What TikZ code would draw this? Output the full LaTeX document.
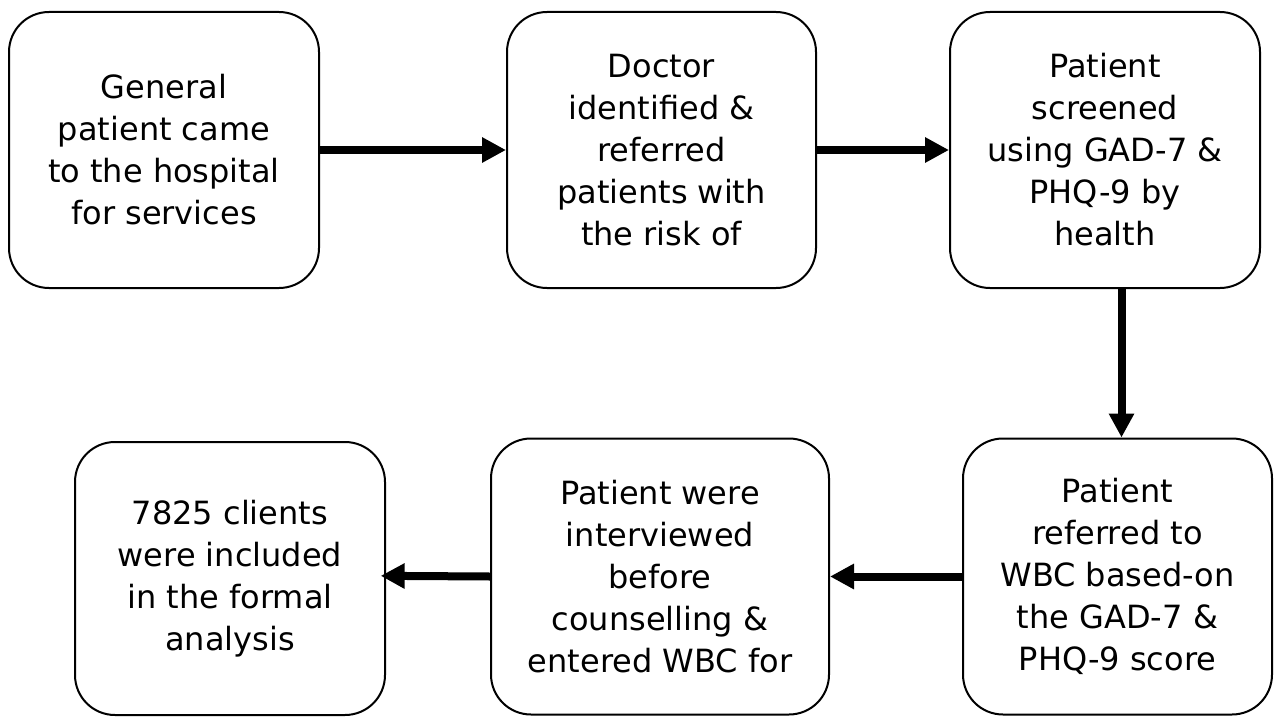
\documentclass[tikz,border=0pt]{standalone}
\usepackage{fontspec}
\setmainfont{DejaVu Sans}
\usetikzlibrary{arrows.meta}
\begin{document}
\begin{tikzpicture}[x=0.75pt,y=-0.75pt,
  stepbox/.style={draw=black, line width=1.5pt, fill=white, rounded corners=30pt,
    inner sep=0pt, align=center, minimum height=207pt,
    font=\fontsize{24}{31.5}\selectfont},
  flowarrow/.style={line width=6pt, -{Triangle[length=18pt,width=18pt]}}]
\useasboundingbox (0,0) rectangle (1277,717);
\node[stepbox, minimum width=232.5pt] (b1) at (164,150) {General\\patient came\\to the hospital\\for services};
\node[stepbox, minimum width=231.75pt] (b2) at (661.5,150) {Doctor\\identified \&\\referred\\patients with\\the risk of};
\node[stepbox, minimum width=232.5pt] (b3) at (1105,150) {Patient\\screened\\using GAD-7 \&\\PHQ-9 by\\health};
\node[stepbox, minimum width=231.75pt] (b4) at (1117.5,576.5) {Patient\\referred to\\WBC based-on\\the GAD-7 \&\\PHQ-9 score};
\node[stepbox, minimum width=253.5pt] (b5) at (660,576.5) {Patient were\\interviewed\\before\\counselling \&\\entered WBC for};
\node[stepbox, minimum width=232.5pt, minimum height=204.75pt] (b6) at (230,578.5) {7825 clients\\were included\\in the formal\\analysis};
\draw[flowarrow] (b1.east) -- (b2.west);
\draw[flowarrow] (b2.east) -- (b3.west);
\draw[flowarrow] ([xshift=3pt]b3.south -| b4.north) -- ([xshift=3pt]b4.north);
\draw[flowarrow] (b4.west) -- (b4.west -| b5.east);
\draw[flowarrow] (b5.west) -- ([xshift=-4pt,yshift=2pt]b6.east);
\end{tikzpicture}
\end{document}
